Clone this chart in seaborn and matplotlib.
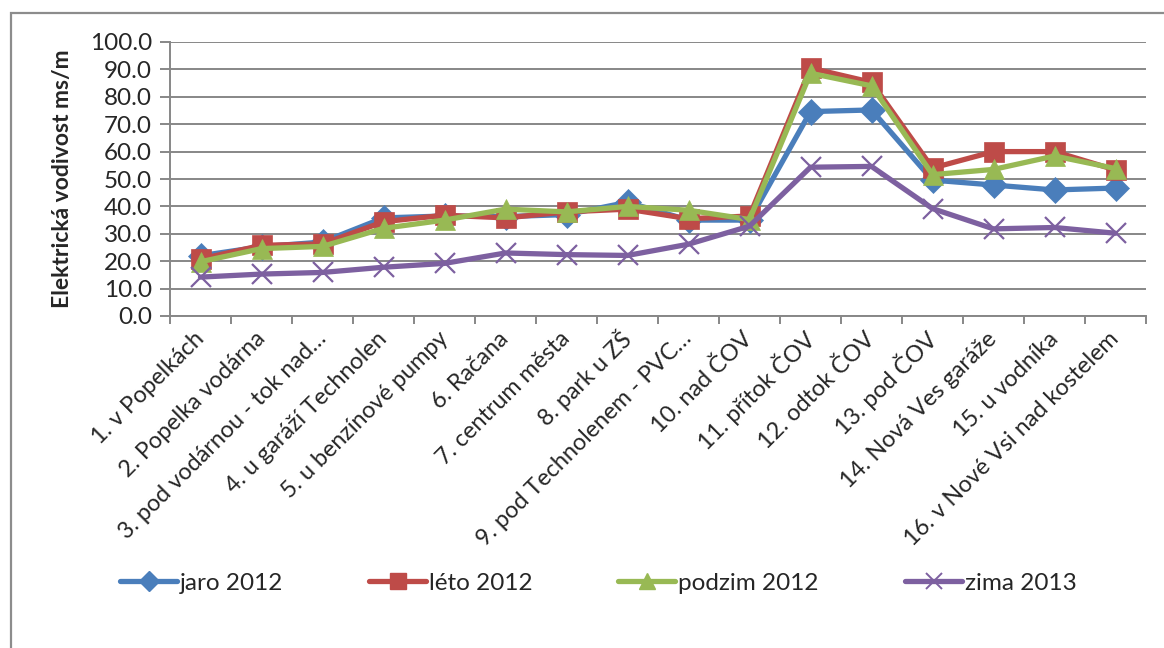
import matplotlib
matplotlib.use("Agg")
import matplotlib.pyplot as plt
import seaborn as sns
import numpy as np
from matplotlib.lines import Line2D
from matplotlib.patches import Rectangle

# Sampling sites along the stream
sites = [
    "1. v Popelkách", "2. Popelka vodárna", "3. pod vodárnou - tok nad…",
    "4. u garáží Technolen", "5. u benzínové pumpy", "6. Račana",
    "7. centrum města", "8. park u ZŠ", "9. pod Technolenem - PVC…",
    "10. nad ČOV", "11. přítok ČOV", "12. odtok ČOV", "13. pod ČOV",
    "14. Nová Ves garáže", "15. u vodníka", "16. v Nové Vsi nad kostelem",
]

# Electrical conductivity (mS/m) per season
jaro_2012 = [22.0, 25.3, 27.0, 35.8, 36.5, 36.3, 37.0, 41.5, 35.0, 35.0, 74.6, 75.2, 49.6, 47.8, 46.0, 46.7]
leto_2012 = [20.8, 25.8, 26.3, 34.4, 36.8, 35.8, 38.0, 39.0, 35.5, 36.5, 90.5, 85.3, 54.0, 60.0, 60.0, 53.3]
podzim_2012 = [19.8, 24.6, 25.4, 32.0, 35.0, 39.0, 38.0, 40.0, 38.6, 35.2, 88.6, 84.0, 51.6, 53.5, 58.4, 53.8]
zima_2013 = [14.2, 15.3, 15.9, 17.8, 19.2, 23.0, 22.4, 22.1, 26.2, 32.8, 54.3, 54.6, 39.2, 31.8, 32.3, 30.2]

series_names = ["jaro 2012", "léto 2012", "podzim 2012", "zima 2013"]
series_values = [jaro_2012, leto_2012, podzim_2012, zima_2013]
colors = ["#4A7EBB", "#BE4B48", "#98B954", "#7D60A0"]
markers = ["D", "s", "^", "x"]

sns.set_theme(style="white")
plt.rcParams["font.family"] = ["Lato", "DejaVu Sans"]

fig = plt.figure(figsize=(11.64, 6.48), dpi=100)
ax = fig.add_axes([170 / 1164, 1 - 316 / 648, 976 / 1164, 274 / 648])

grid_c = "#878787"
pos = np.arange(len(sites))
for name, vals, c, m in zip(series_names, series_values, colors, markers):
    if m == "x":
        mkw = dict(markersize=15, markeredgewidth=1.6, markeredgecolor=c)
    elif m == "D":
        mkw = dict(markersize=13, markeredgewidth=0.5, markeredgecolor=c)
    else:
        mkw = dict(markersize=14, markeredgewidth=0.5, markeredgecolor=c)
    sns.lineplot(x=pos, y=vals, color=c, marker=m, linewidth=3.8, ax=ax,
                 markerfacecolor=c, zorder=3, **mkw)

ax.set_xlim(-0.5, len(sites) - 0.5)
ax.set_ylim(0, 100)
ax.set_yticks(np.arange(0, 101, 10))
ax.set_yticklabels([f"{v:.1f}" for v in np.arange(0, 101, 10)], fontsize=17.5)
ax.yaxis.grid(True, color=grid_c, linewidth=1.4)
ax.set_axisbelow(True)

ax.set_xticks(pos)
ax.set_xticklabels(sites, rotation=45, ha="right", va="center",
                   rotation_mode="anchor", fontsize=16.8)
ax.tick_params(axis="x", length=0, pad=14)
# category boundary ticks
ax.set_xticks(np.arange(-0.5, len(sites), 1.0), minor=True)
ax.tick_params(axis="x", which="minor", length=6, width=1.4, color=grid_c, direction="out", bottom=True)
ax.tick_params(axis="y", length=7, width=1.4, color=grid_c, direction="out", left=True, pad=6)

for s in ["top", "right"]:
    ax.spines[s].set_visible(False)
for s in ["left", "bottom"]:
    ax.spines[s].set_color(grid_c)
    ax.spines[s].set_linewidth(1.4)

ax.set_ylabel("Elektrická vodivost ms/m", fontsize=16.5, fontweight="bold", labelpad=12)
ax.set_xlabel("")

# legend entries placed along the bottom
legend_x = [120, 369, 618, 905]
for name, c, m, lx in zip(series_names, colors, markers, legend_x):
    if m == "x":
        h = Line2D([], [], color=c, lw=3.8, marker=m, markersize=12, markeredgewidth=1.4, markeredgecolor=c)
    else:
        h = Line2D([], [], color=c, lw=3.8, marker=m, markersize=10.5 if m == "D" else 11,
                   markerfacecolor=c, markeredgecolor=c)
    leg = fig.legend([h], [name], loc="center left", bbox_to_anchor=(lx / 1164, 1 - 583 / 648),
                     frameon=False, fontsize=17.5, handlelength=2.35, handletextpad=0.12,
                     borderpad=0, borderaxespad=0)

# chart area frame
fig.patches.append(Rectangle((11 / 1164, -0.1), 1.2, 1 - 13 / 648 + 0.1, transform=fig.transFigure,
                             fill=False, edgecolor="#8C8C8C", linewidth=1.6))

fig.savefig("out.png", dpi=100)
